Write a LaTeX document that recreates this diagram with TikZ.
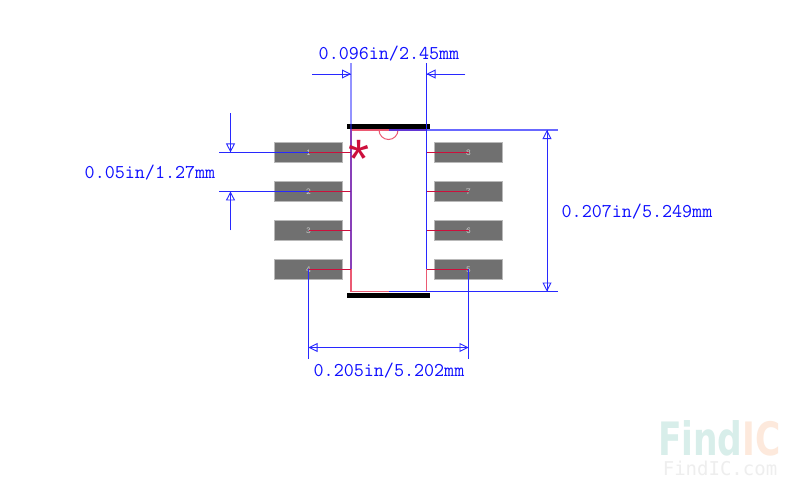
\documentclass[tikz,border=0pt]{standalone}
\usepackage{fontspec}
\usetikzlibrary{arrows.meta,calc}
\newfontfamily\starfont{Liberation Sans}
\newfontfamily\logofont[FakeStretch=0.75]{DejaVu Sans}
\newfontfamily\logomono{DejaVu Sans Mono}
\definecolor{dimblue}{RGB}{40,40,255}
\definecolor{dimtextblue}{RGB}{15,15,255}
\definecolor{pinred}{RGB}{205,15,60}
\definecolor{bodyred}{RGB}{235,90,115}
\definecolor{padgray}{RGB}{112,112,112}
\definecolor{padedge}{RGB}{185,185,185}
\definecolor{padtext}{RGB}{205,205,205}
\definecolor{logoteal}{RGB}{216,238,234}
\definecolor{logoorange}{RGB}{253,233,220}
\definecolor{logogray}{RGB}{238,238,238}
\tikzset{
  every node/.style={inner sep=0pt,outer sep=0pt},
  padbox/.style={draw=padedge,line width=0.8pt,fill=padgray,minimum width=68.5pt,minimum height=19.5pt,text=padtext,font=\fontsize{9}{9}\selectfont\ttfamily},
  barbox/.style={fill=black,minimum width=83pt,minimum height=5pt},
  bodybox/.style={draw=bodyred,line width=1.2pt,minimum width=75.5pt,minimum height=161.5pt},
  dimline/.style={draw=dimblue,line width=1pt},
  pinline/.style={draw=pinred,line width=1pt},
  dimarrow/.style={dimline,-{Triangle[open,length=9pt,width=9pt,line width=0.9pt]},postaction={draw=dimblue,-}},
  dimtext/.style={text=dimtextblue,font=\fontsize{19.5}{19.5}\selectfont\ttfamily},
}
\begin{document}
\begin{tikzpicture}[x=1pt,y=-1pt]
\useasboundingbox[fill=white] (0,0) rectangle (800,493);
% package body
\node[bodybox] (body) at (388.75,210.75) {};
\draw[bodyred,line width=1pt] (379,130) arc[start angle=180,end angle=360,x radius=9.5,y radius=-9.5];
% pads
\foreach \n/\lbl/\yy in {p1/1/152.4,p2/2/191.4,p3/3/230.4,p4/4/269.4}{
  \node[padbox] (\n) at (308.5,\yy) {\lbl};
  \draw[pinline] (\n.center) -- (\n.center -| body.west);
}
\foreach \n/\lbl/\yy in {p8/8/152.4,p7/7/191.4,p6/6/230.4,p5/5/269.4}{
  \node[padbox] (\n) at (468.5,\yy) {\lbl};
  \draw[pinline] (\n.center) -- (\n.center -| body.east);
}
% bars
\node[barbox] (topbar) at (388.5,126.5) {};
\node[barbox] (botbar) at (388.5,295.5) {};
% top dimension
\coordinate (tl) at (351,63);
\coordinate (tr) at (426.5,63);
\coordinate (tla) at (312,74);
\coordinate (tra) at (465,74);
\draw[dimline,line width=1.8pt,draw opacity=0.5] (tl) -- (p4.center -| tl);
\draw[dimline] (tr) -- (p5.center -| tr);
\draw[dimarrow] (tla) -- (tla -| tl);
\draw[dimarrow] (tra) -- (tra -| tr);
\node[dimtext] (tdim) at (389,54) {0.096in/2.45mm};
% left dimension
\coordinate (la) at (219,152.4);
\coordinate (lb) at (219,191.4);
\coordinate (lc) at (230.5,113);
\coordinate (ld) at (230.5,230);
\draw[dimline] (la) -- (p1.center);
\draw[dimline] (lb) -- (p2.center);
\draw[dimarrow] (lc) -- (lc |- la);
\draw[dimarrow] (ld) -- (ld |- lb);
\node[dimtext] (ldim) at (150,173) {0.05in/1.27mm};
% right dimension
\coordinate (ra) at (558,130);
\coordinate (rb) at (558,291.5);
\coordinate (rc) at (547,210);
\draw[dimline,line width=1.3pt,draw opacity=0.7] (body.north) -- (ra);
\draw[dimline] (body.south) -- (rb);
\draw[dimarrow] (rc) -- (rc |- ra);
\draw[dimarrow] (rc) -- (rc |- rb);
\node[dimtext] (rdim) at (637,212) {0.207in/5.249mm};
% bottom dimension
\coordinate (bl) at (308.5,359);
\coordinate (br) at (468.5,359);
\coordinate (bm) at (388.5,347.5);
\draw[dimline] (p4.center) -- (bl);
\draw[dimline] (p5.center) -- (br);
\draw[dimarrow] (bm) -- (bm -| bl);
\draw[dimarrow] (bm) -- (bm -| br);
\node[dimtext] (bdim) at (389,371) {0.205in/5.202mm};
% pin-one marker
\node[text=pinred,font=\fontsize{54}{54}\selectfont\starfont] (star) at (359,159) {*};
% logo
\node[anchor=base west,font=\fontsize{46}{46}\selectfont\bfseries\logofont,text=logoteal] (logoa) at (658,455) {Find};
\node[anchor=base west,font=\fontsize{46}{46}\selectfont\bfseries\logofont,text=logoorange] (logob) at (logoa.base east) {IC};
\node[anchor=base,font=\fontsize{19}{19}\selectfont\logomono,text=logogray] (logoc) at (720,475) {FindIC.com};
\end{tikzpicture}
\end{document}
